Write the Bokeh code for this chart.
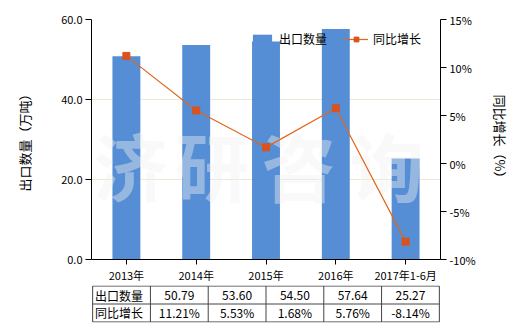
from bokeh.plotting import figure
from bokeh.models import (ColumnDataSource, LinearAxis, Range1d, FactorRange, FixedTicker,
                          NumeralTickFormatter, PrintfTickFormatter, Legend, LegendItem)
from bokeh.layouts import column
from bokeh.core.properties import value
from bokeh.embed import file_html
from bokeh.resources import INLINE

# ---- data ----
categories = ["2013年", "2014年", "2015年", "2016年", "2017年1-6月"]
export_qty = [50.79, 53.60, 54.50, 57.64, 25.27]
yoy_growth = [11.21, 5.53, 1.68, 5.76, -8.14]
qty_labels = ["50.79", "53.60", "54.50", "57.64", "25.27"]
yoy_labels = ["11.21%", "5.53%", "1.68%", "5.76%", "-8.14%"]
left_ticks = [0, 20, 40, 60]
right_ticks = [-10, -5, 0, 5, 10, 15]
series_names = ["出口数量", "同比增长"]
watermark = ["济", "研", "咨", "询"]

FONT = "Noto Sans CJK SC"
BAR = "#558ed5"
LINE = "#e2661a"
MARK = "#d9531e"

src = ColumnDataSource(dict(cat=categories, qty=export_qty, yoy=yoy_growth))

p = figure(width=520, height=285, x_range=FactorRange(*categories), y_range=Range1d(0, 60),
           output_backend="svg", toolbar_location=None,
           min_border_left=91, min_border_right=80, min_border_top=19, min_border_bottom=26)
p.outline_line_color = None
p.background_fill_color = "white"
p.border_fill_color = "white"
p.extra_y_ranges = {"pct": Range1d(-10, 15)}

bars = p.vbar(x="cat", top="qty", width=0.4, source=src, fill_color=BAR, line_color=None)

# watermark (decoration)
wm = ColumnDataSource(dict(x=[0.56, 1.73, 2.97, 4.23], y=[24, 24, 24, 24], t=watermark))
p.text(x="x", y="y", text="t", source=wm, text_font=value(FONT), text_font_size="74px",
       text_font_style="bold", text_color="#f0f0f0", text_alpha=0.42,
       text_align="center", text_baseline="middle")

ln = p.line(x="cat", y="yoy", source=src, y_range_name="pct", line_color=LINE, line_width=1.2)
sc = p.scatter(x="cat", y="yoy", source=src, y_range_name="pct", marker="square", size=7,
               fill_color=MARK, line_color=MARK)

# axes
p.xaxis.axis_line_color = "black"
p.xaxis.major_tick_line_color = "black"
p.xaxis.major_tick_out = 5
p.xaxis.major_tick_in = 0
p.xaxis.minor_tick_line_color = None
p.xaxis.major_label_text_font = FONT
p.xaxis.major_label_text_font_size = "11px"
p.xaxis.major_label_text_color = "black"
p.xaxis.major_label_standoff = 2

ly = p.yaxis[0]
ly.ticker = FixedTicker(ticks=left_ticks)
ly.formatter = NumeralTickFormatter(format="0.0")
ly.axis_line_color = "black"
ly.major_tick_line_color = "black"
ly.major_tick_out = 6
ly.major_tick_in = 0
ly.minor_tick_line_color = None
ly.major_label_text_font = FONT
ly.major_label_text_font_size = "11px"
ly.major_label_text_color = "black"
ly.major_label_standoff = 3
ly.axis_label = "出口数量（万吨）"
ly.axis_label_text_font = FONT
ly.axis_label_text_font_size = "13px"
ly.axis_label_text_font_style = "normal"
ly.axis_label_text_color = "black"
ly.axis_label_standoff = 24

ry = LinearAxis(y_range_name="pct", ticker=FixedTicker(ticks=right_ticks),
                formatter=PrintfTickFormatter(format="%d%%"))
ry.axis_line_color = "black"
ry.major_tick_line_color = "black"
ry.major_tick_out = 6
ry.major_tick_in = 0
ry.minor_tick_line_color = None
ry.major_label_text_font = FONT
ry.major_label_text_font_size = "11px"
ry.major_label_text_color = "black"
ry.major_label_standoff = 3
ry.axis_label = "同比增长（%）"
ry.axis_label_text_font = FONT
ry.axis_label_text_font_size = "13px"
ry.axis_label_text_font_style = "normal"
ry.axis_label_text_color = "black"
ry.axis_label_standoff = 12
p.add_layout(ry, "right")

p.xgrid.grid_line_color = None
p.ygrid.ticker = FixedTicker(ticks=left_ticks)
p.ygrid.grid_line_color = "#ebe8d6"
p.ygrid.grid_line_width = 1

legend = Legend(items=[LegendItem(label=series_names[0], renderers=[bars]),
                       LegendItem(label=series_names[1], renderers=[ln, sc])],
                location=(159, 212), orientation="horizontal",
                background_fill_alpha=0, border_line_color=None,
                glyph_width=24, glyph_height=12, label_standoff=5, spacing=17,
                padding=0, margin=0, label_text_font=FONT, label_text_font_size="12px",
                label_text_color="black", label_height=12)
p.add_layout(legend, "center")

# ---- table ----
t = figure(width=520, height=45, x_range=Range1d(-0.02, 6.02), y_range=Range1d(-0.03, 2.03),
           output_backend="svg", toolbar_location=None,
           x_axis_location=None, y_axis_location=None,
           min_border_left=19, min_border_right=80, min_border_top=0, min_border_bottom=8)
t.outline_line_color = None
t.xgrid.visible = False
t.ygrid.visible = False
t.border_fill_color = "white"

ncol = len(categories) + 1
hx0 = [0, 0, 0]
hx1 = [ncol, ncol, ncol]
hy = [0, 1, 2]
t.segment(x0=hx0, y0=hy, x1=hx1, y1=hy, line_color="#444444", line_width=1)
vx = list(range(ncol + 1))
t.segment(x0=vx, y0=[0] * len(vx), x1=vx, y1=[2] * len(vx), line_color="#444444", line_width=1)

t.text(x=[0.04, 0.04], y=[1.5, 0.5], text=series_names, text_font=value(FONT),
       text_font_size="12px", text_color="black", text_align="left", text_baseline="middle")
cx = [i + 1.5 for i in range(len(categories))]
t.text(x=cx, y=[1.5] * len(cx), text=qty_labels, text_font=value(FONT), text_font_size="12px",
       text_color="black", text_align="center", text_baseline="middle")
t.text(x=cx, y=[0.5] * len(cx), text=yoy_labels, text_font=value(FONT), text_font_size="12px",
       text_color="black", text_align="center", text_baseline="middle")

layout = column(p, t, spacing=0)
open("out.html", "w").write(file_html(layout, INLINE))
